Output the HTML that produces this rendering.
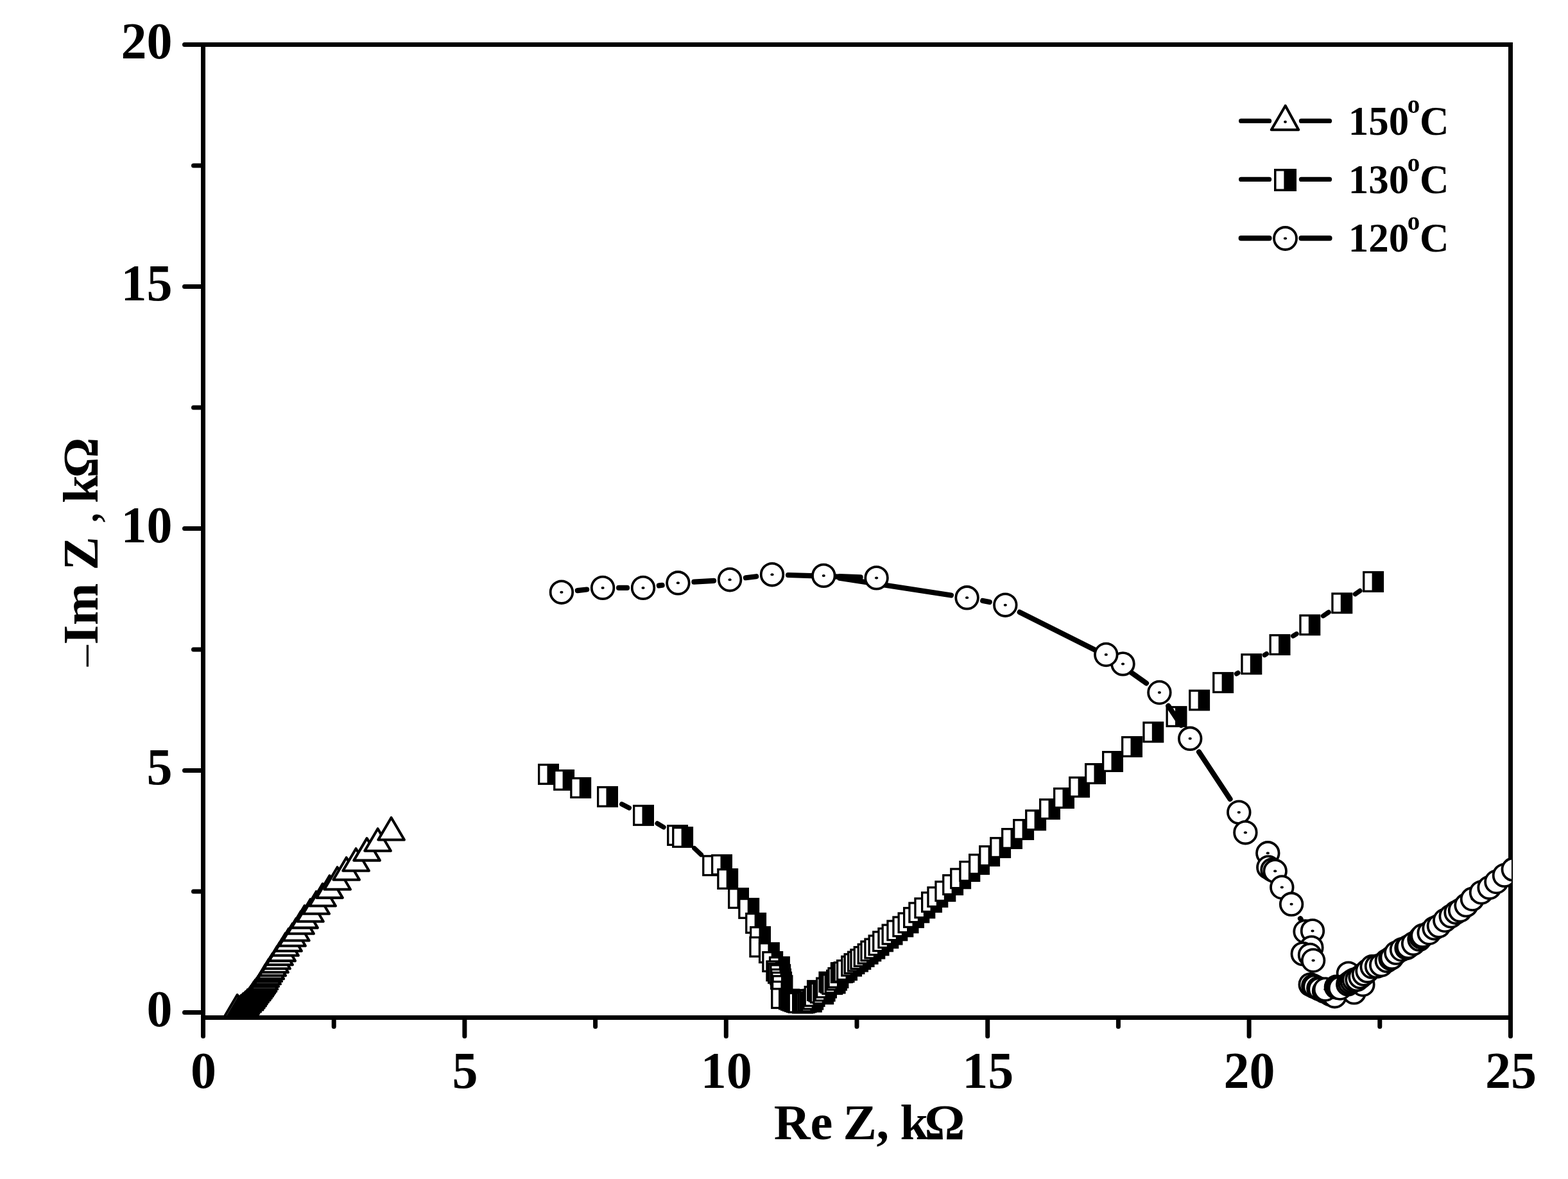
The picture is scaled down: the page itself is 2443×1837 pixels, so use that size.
<!DOCTYPE html>
<html lang="en">
<head>
<meta charset="utf-8">
<title>Nyquist plot: -Im Z vs Re Z</title>
<style>
html,body{margin:0;padding:0;background:#fff;}
body{width:2443px;height:1837px;overflow:hidden;}
svg{display:block;}
text{font-family:'Liberation Serif', 'DejaVu Serif', serif;font-weight:bold;fill:#000;}
.ax{stroke:#000;stroke-width:7;fill:none;}
.rc{stroke-linecap:round;}
.tk{font-size:80px;}
.tt{font-size:78.5px;}
.lg{font-size:63px;}
.ls{stroke:#000;stroke-width:7.4;stroke-linecap:round;fill:none;}
.lc{stroke:#000;stroke-width:8.2;stroke-linecap:round;fill:none;}
.t{fill:#fff;stroke:#000;stroke-width:4.1;stroke-linejoin:round;}
.s{fill:#fff;stroke:#000;stroke-width:3.3;}
.c{fill:#fff;stroke:#000;stroke-width:3.8;}
</style>
</head>
<body>
<svg width="2443" height="1837" viewBox="0 0 2443 1837">
<rect x="0" y="0" width="2443" height="1837" fill="#fff"/>
<defs>
<clipPath id="cp"><rect x="310" y="60" width="2045" height="1528.5"/></clipPath>
<g id="T"><path class="t" d="M0 2.05L20.3 36.55H-20.3Z"/></g>
<g id="S"><rect class="s" x="-14.85" y="-14.85" width="29.7" height="29.7"/><rect x="-2" y="-14.85" width="16.85" height="29.7" fill="#000"/></g>
<g id="C"><circle class="c" r="17.3"/><ellipse rx="2.6" ry="2" fill="#000"/></g>
</defs>
<g id="axes">
<path class="ax" d="M316.5 66.0V1589.0"/>
<path class="ax" d="M2353.5 66.0V1589.0"/>
<path class="ax" d="M313.0 69.5H2357.0"/>
<path class="ax" d="M313.0 1585.5H2357.0"/>
<path class="ax rc" d="M287.5 69.5H314.0M287.5 446.5H314.0M287.5 823.5H314.0M287.5 1200.5H314.0M287.5 1577.5H314.0M301.5 258.0H314.0M301.5 635.0H314.0M301.5 1012.0H314.0M301.5 1389.0H314.0"/>
<path class="ax rc" d="M316.5 1588.0V1614.5M723.9 1588.0V1614.5M1131.3 1588.0V1614.5M1538.7 1588.0V1614.5M1946.1 1588.0V1614.5M2353.5 1588.0V1614.5M520.2 1588.0V1599.5M927.6 1588.0V1599.5M1335.0 1588.0V1599.5M1742.4 1588.0V1599.5M2149.8 1588.0V1599.5"/>
</g>
<g id="ylabels" class="tk" text-anchor="end">
<text x="268.5" y="91.0">20</text>
<text x="268.5" y="468.0">15</text>
<text x="268.5" y="845.0">10</text>
<text x="268.5" y="1222.0">5</text>
<text x="268.5" y="1599.0">0</text>
</g>
<g id="xlabels" class="tk" text-anchor="middle">
<text x="317.0" y="1694.5">0</text>
<text x="724.4" y="1694.5">5</text>
<text x="1131.8" y="1694.5">10</text>
<text x="1539.2" y="1694.5">15</text>
<text x="1946.6" y="1694.5">20</text>
<text x="2354.0" y="1694.5">25</text>
</g>
<text class="tt" y="1775"><tspan x="1205.7">Re</tspan> <tspan x="1313.6">Z</tspan><tspan x="1365.5">,</tspan> <tspan x="1402.5">k</tspan><tspan x="1440.5">Ω</tspan></text>
<text class="tt" transform="translate(152 0) rotate(-90)"><tspan x="-1038.3" font-weight="normal" font-size="66">–</tspan><tspan x="-1004.6">Im</tspan> <tspan x="-888.5">Z</tspan> <tspan x="-816.3" font-weight="normal">,</tspan> <tspan x="-784">k</tspan><tspan x="-744.5">Ω</tspan></text>
<g id="data" clip-path="url(#cp)">
<g id="series-150">
<use href="#T" x="369.7" y="1548.0"/>
<use href="#T" x="373.0" y="1550.5"/>
<use href="#T" x="376.0" y="1548.5"/>
<use href="#T" x="379.0" y="1546.0"/>
<use href="#T" x="381.5" y="1544.3"/>
<use href="#T" x="382.9" y="1542.9"/>
<use href="#T" x="385.8" y="1539.9"/>
<use href="#T" x="389.2" y="1536.9"/>
<use href="#T" x="391.4" y="1533.9"/>
<use href="#T" x="393.7" y="1530.9"/>
<use href="#T" x="395.5" y="1527.9"/>
<use href="#T" x="397.7" y="1524.9"/>
<use href="#T" x="400.3" y="1521.9"/>
<use href="#T" x="402.5" y="1518.9"/>
<use href="#T" x="404.6" y="1515.9"/>
<use href="#T" x="406.1" y="1513.4"/>
<use href="#T" x="407.9" y="1510.9"/>
<use href="#T" x="409.9" y="1508.2"/>
<use href="#T" x="411.9" y="1504.7"/>
<use href="#T" x="413.7" y="1500.5"/>
<use href="#T" x="416.6" y="1496.7"/>
<use href="#T" x="418.7" y="1492.5"/>
<use href="#T" x="421.7" y="1488.6"/>
<use href="#T" x="424.7" y="1483.6"/>
<use href="#T" x="428.6" y="1478.4"/>
<use href="#T" x="431.6" y="1472.7"/>
<use href="#T" x="435.6" y="1466.7"/>
<use href="#T" x="439.7" y="1460.6"/>
<use href="#T" x="444.6" y="1452.2"/>
<use href="#T" x="449.6" y="1445.2"/>
<use href="#T" x="455.6" y="1437.2"/>
<use href="#T" x="461.4" y="1429.0"/>
<use href="#T" x="468.6" y="1418.2"/>
<use href="#T" x="474.6" y="1409.1"/>
<use href="#T" x="483.5" y="1399.2"/>
<use href="#T" x="492.7" y="1387.2"/>
<use href="#T" x="502.6" y="1375.0"/>
<use href="#T" x="513.5" y="1362.3"/>
<use href="#T" x="525.6" y="1349.2"/>
<use href="#T" x="539.7" y="1334.2"/>
<use href="#T" x="554.6" y="1320.2"/>
<use href="#T" x="571.6" y="1304.1"/>
<use href="#T" x="588.6" y="1289.2"/>
<use href="#T" x="609.6" y="1271.9"/>
</g>
<g id="series-130">
<path class="ls" d="M968.7 1252.9L980.3 1258.9M1024.1 1283.0L1034.0 1288.9M1081.8 1321.6L1092.4 1331.6M1926.5 1049.9L1928.9 1048.4M1970.4 1020.6L1973.3 1018.7M2014.8 990.9L2020.0 987.6M2061.5 959.7L2070.1 953.9M2111.4 925.7L2118.9 920.5"/>
<use href="#S" x="854.5" y="1206.4"/>
<use href="#S" x="878.6" y="1215.4"/>
<use href="#S" x="904.7" y="1227.5"/>
<use href="#S" x="946.5" y="1241.4"/>
<use href="#S" x="1002.5" y="1270.4"/>
<use href="#S" x="1055.6" y="1301.5"/>
<use href="#S" x="1063.6" y="1304.5"/>
<use href="#S" x="1110.6" y="1348.7"/>
<use href="#S" x="1124.5" y="1347.6"/>
<use href="#S" x="1133.7" y="1369.5"/>
<use href="#S" x="1150.5" y="1399.6"/>
<use href="#S" x="1166.7" y="1415.4"/>
<use href="#S" x="1177.6" y="1438.4"/>
<use href="#S" x="1184.5" y="1459.6"/>
<use href="#S" x="1183.8" y="1475.4"/>
<use href="#S" x="1198.4" y="1484.6"/>
<use href="#S" x="1203.7" y="1498.5"/>
<use href="#S" x="1214.4" y="1506.6"/>
<use href="#S" x="1209.8" y="1512.8"/>
<use href="#S" x="1212.5" y="1516.4"/>
<use href="#S" x="1215.7" y="1518.6"/>
<use href="#S" x="1216.5" y="1525.4"/>
<use href="#S" x="1217.6" y="1530.3"/>
<use href="#S" x="1219.0" y="1535.7"/>
<use href="#S" x="1218.4" y="1544.4"/>
<use href="#S" x="1217.6" y="1555.6"/>
<use href="#S" x="1229.5" y="1557.0"/>
<use href="#S" x="1232.5" y="1558.3"/>
<use href="#S" x="1235.5" y="1559.5"/>
<use href="#S" x="1238.5" y="1560.6"/>
<use href="#S" x="1241.3" y="1561.6"/>
<use href="#S" x="1244.1" y="1562.3"/>
<use href="#S" x="1250.5" y="1563.0"/>
<use href="#S" x="1253.3" y="1562.6"/>
<use href="#S" x="1256.0" y="1561.8"/>
<use href="#S" x="1259.0" y="1560.0"/>
<use href="#S" x="1261.8" y="1557.4"/>
<use href="#S" x="1264.3" y="1561.0"/>
<use href="#S" x="1266.7" y="1557.2"/>
<use href="#S" x="1269.1" y="1552.4"/>
<use href="#S" x="1273.5" y="1543.4"/>
<use href="#S" x="1275.9" y="1544.9"/>
<use href="#S" x="1278.3" y="1547.1"/>
<use href="#S" x="1282.7" y="1548.7"/>
<use href="#S" x="1285.1" y="1544.2"/>
<use href="#S" x="1287.5" y="1539.0"/>
<use href="#S" x="1291.9" y="1530.1"/>
<use href="#S" x="1294.3" y="1531.6"/>
<use href="#S" x="1296.7" y="1533.6"/>
<use href="#S" x="1301.1" y="1532.0"/>
<use href="#S" x="1303.5" y="1527.2"/>
<use href="#S" x="1305.9" y="1523.4"/>
<use href="#S" x="1310.3" y="1515.6"/>
<use href="#S" x="1312.7" y="1515.5"/>
<use href="#S" x="1315.1" y="1514.6"/>
<use href="#S" x="1319.5" y="1511.5"/>
<use href="#S" x="1326.6" y="1505.2"/>
<use href="#S" x="1331.0" y="1501.6"/>
<use href="#S" x="1336.5" y="1498.1"/>
<use href="#S" x="1340.8" y="1494.6"/>
<use href="#S" x="1346.1" y="1490.5"/>
<use href="#S" x="1352.1" y="1486.2"/>
<use href="#S" x="1356.8" y="1481.8"/>
<use href="#S" x="1362.8" y="1478.0"/>
<use href="#S" x="1369.0" y="1472.8"/>
<use href="#S" x="1375.6" y="1466.8"/>
<use href="#S" x="1383.8" y="1461.6"/>
<use href="#S" x="1390.0" y="1456.0"/>
<use href="#S" x="1397.8" y="1449.8"/>
<use href="#S" x="1406.8" y="1443.8"/>
<use href="#S" x="1415.0" y="1437.8"/>
<use href="#S" x="1423.5" y="1429.6"/>
<use href="#S" x="1431.8" y="1421.8"/>
<use href="#S" x="1440.8" y="1414.8"/>
<use href="#S" x="1451.5" y="1405.6"/>
<use href="#S" x="1460.8" y="1397.6"/>
<use href="#S" x="1472.8" y="1388.6"/>
<use href="#S" x="1484.6" y="1378.6"/>
<use href="#S" x="1496.6" y="1368.8"/>
<use href="#S" x="1510.8" y="1357.5"/>
<use href="#S" x="1525.5" y="1346.6"/>
<use href="#S" x="1541.6" y="1333.6"/>
<use href="#S" x="1558.6" y="1320.6"/>
<use href="#S" x="1576.5" y="1306.5"/>
<use href="#S" x="1594.6" y="1292.5"/>
<use href="#S" x="1613.6" y="1277.8"/>
<use href="#S" x="1635.5" y="1260.6"/>
<use href="#S" x="1657.5" y="1243.5"/>
<use href="#S" x="1681.6" y="1226.3"/>
<use href="#S" x="1706.5" y="1205.5"/>
<use href="#S" x="1733.5" y="1186.5"/>
<use href="#S" x="1763.5" y="1163.5"/>
<use href="#S" x="1796.8" y="1140.8"/>
<use href="#S" x="1833.0" y="1116.6"/>
<use href="#S" x="1868.6" y="1091.0"/>
<use href="#S" x="1905.6" y="1063.6"/>
<use href="#S" x="1949.8" y="1034.7"/>
<use href="#S" x="1994.0" y="1004.6"/>
<use href="#S" x="2040.8" y="973.8"/>
<use href="#S" x="2090.8" y="939.8"/>
<use href="#S" x="2139.6" y="906.4"/>
</g>
<g id="series-120">
<path class="lc" d="M899.8 920.1L914.2 918.5M964.1 915.9L977.0 915.9M1026.8 912.4L1031.6 911.8M1081.4 906.7L1112.1 904.8M1161.9 900.2L1178.2 898.2M1228.0 896.0L1340.6 899.6M1340.6 899.3L1308.3 898.0M1308.0 900.7L1481.9 927.5M1531.2 936.0L1541.7 938.0M1588.7 953.9L1727.1 1023.2M1743.7 1034.5L1786.0 1064.5M1820.3 1099.8L1840.3 1130.0M1868.0 1171.6L1916.5 1244.9M2026 1431.3l0.6 0.8"/>
<use href="#C" x="874.9" y="922.7"/>
<use href="#C" x="939.1" y="915.9"/>
<use href="#C" x="1002.0" y="915.9"/>
<use href="#C" x="1056.4" y="908.3"/>
<use href="#C" x="1137.1" y="903.2"/>
<use href="#C" x="1203.0" y="895.2"/>
<use href="#C" x="1365.6" y="900.4"/>
<use href="#C" x="1283.3" y="896.9"/>
<use href="#C" x="1506.6" y="931.3"/>
<use href="#C" x="1566.3" y="942.7"/>
<use href="#C" x="1749.5" y="1034.4"/>
<use href="#C" x="1723.3" y="1020.0"/>
<use href="#C" x="1806.4" y="1079.0"/>
<use href="#C" x="1854.2" y="1150.8"/>
<use href="#C" x="1930.3" y="1265.7"/>
<use href="#C" x="1940.4" y="1297.2"/>
<use href="#C" x="1975.3" y="1329.3"/>
<use href="#C" x="1976.3" y="1351.5"/>
<use href="#C" x="1982.5" y="1355.3"/>
<use href="#C" x="1986.7" y="1357.3"/>
<use href="#C" x="1997.3" y="1382.5"/>
<use href="#C" x="2012.1" y="1408.8"/>
<use href="#C" x="2033.6" y="1451.5"/>
<use href="#C" x="2045.0" y="1450.4"/>
<use href="#C" x="2043.4" y="1476.4"/>
<use href="#C" x="2029.8" y="1486.2"/>
<use href="#C" x="2041.0" y="1488.0"/>
<use href="#C" x="2046.1" y="1496.5"/>
<use href="#C" x="2041.7" y="1534.1"/>
<use href="#C" x="2046.3" y="1536.3"/>
<use href="#C" x="2048.6" y="1537.4"/>
<use href="#C" x="2054.3" y="1540.1"/>
<use href="#C" x="2056.6" y="1541.2"/>
<use href="#C" x="2063.0" y="1544.3"/>
<use href="#C" x="2071.1" y="1548.2"/>
<use href="#C" x="2073.5" y="1549.3"/>
<use href="#C" x="2079.5" y="1552.2"/>
<use href="#C" x="2109.7" y="1546.4"/>
<use href="#C" x="2123.4" y="1534.0"/>
<use href="#C" x="2100.9" y="1516.6"/>
<use href="#C" x="2064.9" y="1541.5"/>
<use href="#C" x="2081.9" y="1537.8"/>
<use href="#C" x="2084.9" y="1538.9"/>
<use href="#C" x="2088.0" y="1539.5"/>
<use href="#C" x="2100.2" y="1533.4"/>
<use href="#C" x="2103.2" y="1531.2"/>
<use href="#C" x="2106.4" y="1528.8"/>
<use href="#C" x="2109.7" y="1526.6"/>
<use href="#C" x="2114.5" y="1526.2"/>
<use href="#C" x="2119.5" y="1522.2"/>
<use href="#C" x="2125.0" y="1517.7"/>
<use href="#C" x="2130.5" y="1512.8"/>
<use href="#C" x="2137.7" y="1506.3"/>
<use href="#C" x="2145.0" y="1505.6"/>
<use href="#C" x="2152.2" y="1503.4"/>
<use href="#C" x="2160.8" y="1496.9"/>
<use href="#C" x="2166.5" y="1493.5"/>
<use href="#C" x="2168.8" y="1491.8"/>
<use href="#C" x="2175.3" y="1484.6"/>
<use href="#C" x="2184.0" y="1479.5"/>
<use href="#C" x="2191.5" y="1477.0"/>
<use href="#C" x="2194.1" y="1475.2"/>
<use href="#C" x="2202.1" y="1470.1"/>
<use href="#C" x="2211.5" y="1463.6"/>
<use href="#C" x="2214.3" y="1460.2"/>
<use href="#C" x="2216.5" y="1457.8"/>
<use href="#C" x="2226.7" y="1453.5"/>
<use href="#C" x="2234.6" y="1446.2"/>
<use href="#C" x="2241.9" y="1442.6"/>
<use href="#C" x="2251.3" y="1434.0"/>
<use href="#C" x="2260.7" y="1427.4"/>
<use href="#C" x="2268.6" y="1421.7"/>
<use href="#C" x="2275.0" y="1418.3"/>
<use href="#C" x="2284.5" y="1410.3"/>
<use href="#C" x="2294.0" y="1400.8"/>
<use href="#C" x="2308.0" y="1390.4"/>
<use href="#C" x="2320.6" y="1382.9"/>
<use href="#C" x="2331.4" y="1374.0"/>
<use href="#C" x="2344.0" y="1363.9"/>
<use href="#C" x="2357.8" y="1354.6"/>
</g>
</g>
<g id="legend">
<path class="ls" d="M1933.7 188.4H1977.5M2027.5 188.4H2071.5"/>
<path class="t" d="M2002.7 164.7L2023.2 202.2H1980.8Z"/><ellipse cx="2002.5" cy="189.9" rx="2.4" ry="2.1" fill="#000"/>
<text class="lg" y="209.8"><tspan x="2100.7">150</tspan><tspan x="2192.8" dy="-34" font-size="39">o</tspan><tspan x="2212" dy="34">C</tspan></text>
<path class="ls" d="M1933.7 279.4H1977.5M2027.5 279.4H2071.5"/>
<use href="#S" transform="translate(2002.5 280.5) scale(1.06)"/>
<text class="lg" y="300.9"><tspan x="2100.7">130</tspan><tspan x="2192.8" dy="-34" font-size="39">o</tspan><tspan x="2212" dy="34">C</tspan></text>
<path class="lc" d="M1933.7 371.2H1977.5M2027.5 371.2H2071.5"/>
<use href="#C" transform="translate(2002.5 371.5) scale(1.01)"/>
<text class="lg" y="392.0"><tspan x="2100.7">120</tspan><tspan x="2192.8" dy="-34" font-size="39">o</tspan><tspan x="2212" dy="34">C</tspan></text>
</g>
</svg>
</body>
</html>
